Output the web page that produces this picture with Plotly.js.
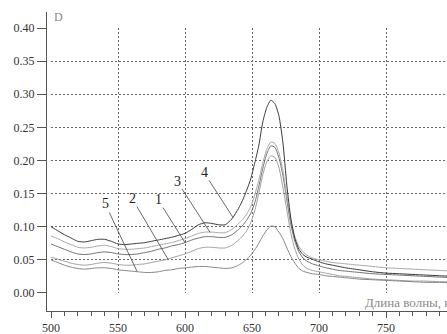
<!DOCTYPE html>
<html><head><meta charset="utf-8">
<script src="https://cdn.plot.ly/plotly-3.0.1.min.js"></script>
<style>html,body{margin:0;padding:0;background:#fff}#chart{width:447px;height:334px}</style>
</head><body><div id="chart"></div>
<script>
const lambda = [500,505,510,515,520,525,530,535,540,545,550,555,560,565,570,575,580,585,590,595,600,605,610,615,620,625,630,635,640,643,646,649,652,655,658,661,664,667,670,673,676,679,682,685,688,691,695,700,705,710,715,720,730,740,750,760,770,780,790,800];
const curve4 = [.100,.094,.088,.083,.078,.077,.079,.081,.081,.078,.074,.073,.074,.075,.076,.078,.080,.082,.084,.087,.090,.096,.103,.106,.105,.103,.103,.112,.128,.140,.155,.172,.196,.222,.258,.280,.291,.286,.268,.228,.162,.112,.082,.066,.058,.054,.051,.047,.044,.042,.040,.038,.035,.032,.030,.029,.028,.027,.026,.025];
const curve3 = [.086,.082,.077,.073,.069,.068,.069,.071,.072,.070,.067,.066,.066,.067,.068,.070,.072,.074,.076,.079,.082,.086,.090,.092,.092,.091,.091,.096,.105,.111,.119,.130,.148,.170,.196,.217,.228,.226,.212,.185,.145,.110,.085,.070,.062,.057,.053,.050,.048,.046,.045,.044,.042,.040,.038,.037,.036,.035,.034,.033];
const curve1 = [.074,.070,.066,.062,.059,.058,.059,.061,.062,.061,.059,.058,.058,.059,.061,.063,.066,.068,.071,.073,.076,.080,.083,.085,.085,.084,.084,.088,.096,.102,.110,.120,.136,.160,.188,.210,.222,.220,.205,.178,.140,.103,.078,.062,.053,.048,.044,.041,.038,.036,.034,.033,.031,.029,.028,.027,.026,.025,.024,.023];
const curve2 = [.054,.051,.048,.045,.043,.042,.043,.045,.046,.045,.043,.042,.042,.043,.044,.046,.048,.050,.053,.056,.059,.063,.067,.069,.069,.068,.068,.072,.080,.086,.094,.106,.124,.150,.178,.198,.207,.205,.190,.160,.125,.090,.066,.051,.042,.037,.034,.032,.030,.028,.026,.025,.023,.021,.020,.019,.018,.018,.017,.017];
const curve5 = [.050,.046,.042,.039,.037,.036,.037,.038,.038,.037,.035,.034,.033,.032,.031,.031,.032,.034,.035,.037,.038,.039,.040,.040,.039,.038,.037,.038,.042,.046,.051,.057,.065,.075,.086,.095,.101,.100,.092,.082,.068,.055,.045,.037,.033,.031,.029,.028,.026,.025,.024,.023,.021,.020,.019,.018,.017,.016,.016,.015];

const seriesNames = ['1','2','3','4','5'];
const seriesData = [curve1, curve2, curve3, curve4, curve5];
const seriesColors = ['#707070','#a0a0a0','#a8a8a8','#3a3a3a','#858585'];

const xTickVals = [500,550,600,650,700,750,800];
const yTickVals = [0,0.05,0.10,0.15,0.20,0.25,0.30,0.35,0.40];

const traces = [{x:[], y:[], xaxis:'x', yaxis:'y', type:'scatter', mode:'lines', showlegend:false, hoverinfo:'skip'}];
seriesData.forEach((d,i)=>{
  traces.push({x:lambda, y:d, xaxis:'x2', yaxis:'y2', type:'scatter', mode:'lines', name:seriesNames[i],
    line:{color:seriesColors[i], width:1, shape:'spline', smoothing:0.6}, showlegend:false});
});

const labelText = ['5','2','1','3','4'];
const labelLambda = [564.2, 587.3, 600, 618.7, 635.8];
const labelValue = [0.0325, 0.051, 0.076, 0.0915, 0.114];
const labelAx = [-32,-36,-27,-33,-29];
const labelAy = [-68,-61,-43,-51,-45];

const serif = "'Liberation Serif', serif";
const annotations = labelText.map((t,i)=>({
  x:labelLambda[i], y:labelValue[i], xref:'x2', yref:'y2', text:t, showarrow:true,
  arrowhead:0, arrowwidth:0.8, arrowcolor:'#444', ax:labelAx[i], ay:labelAy[i],
  font:{family:serif, size:14, color:'#222'}
}));
annotations.push({x:500.5, y:0.4174, xref:'x2', yref:'y2', text:'D', showarrow:false, xanchor:'left', yanchor:'middle',
  font:{family:serif, size:12, color:'#888'}});
annotations.push({x:733, y:-0.0151, xref:'x2', yref:'y2', text:'Длина волны, нм', showarrow:false, xanchor:'left', yanchor:'middle',
  font:{family:serif, size:13, color:'#888'}});

const layout = {
  width:447, height:334,
  margin:{l:47, r:0, t:12, b:23},
  paper_bgcolor:'#fff', plot_bgcolor:'rgba(0,0,0,0)',
  showlegend:false,
  font:{family:serif},
  xaxis:{domain:[0.01,1], range:[499.9,795.5], anchor:'y', showgrid:true, gridcolor:'#666', gridwidth:1, griddash:'2px,2px',
    tickmode:'array', tickvals:xTickVals, showticklabels:false, ticks:'', showline:false, zeroline:false},
  yaxis:{domain:[0.0602,0.9465], range:[-0.0003,0.4003], anchor:'x', showgrid:true, gridcolor:'#666', gridwidth:1, griddash:'2px,2px',
    tickmode:'array', tickvals:yTickVals, showticklabels:false, ticks:'', showline:false, zeroline:false},
  xaxis2:{domain:[0,1], range:[497,795.5], anchor:'y2', showgrid:false, zeroline:false, showline:true, linecolor:'#555', linewidth:1,
    tickmode:'array', tickvals:xTickVals, ticks:'outside', ticklen:6, tickcolor:'#555', tickwidth:1,
    minor:{dtick:10, tick0:500, ticks:'outside', ticklen:4, tickcolor:'#555', tickwidth:1, showgrid:false},
    tickfont:{family:serif, size:12, color:'#333'}},
  yaxis2:{domain:[0,1], range:[-0.0272,0.4242], anchor:'x2', showgrid:false, zeroline:false, showline:true, linecolor:'#555', linewidth:1,
    tickmode:'array', tickvals:yTickVals, tickformat:'.2f', ticks:'outside', ticklen:9, tickcolor:'#555', tickwidth:1,
    tickfont:{family:serif, size:12, color:'#333'}},
  annotations:annotations
};
Plotly.newPlot('chart', traces, layout, {displayModeBar:false, staticPlot:true});
</script></body></html>
